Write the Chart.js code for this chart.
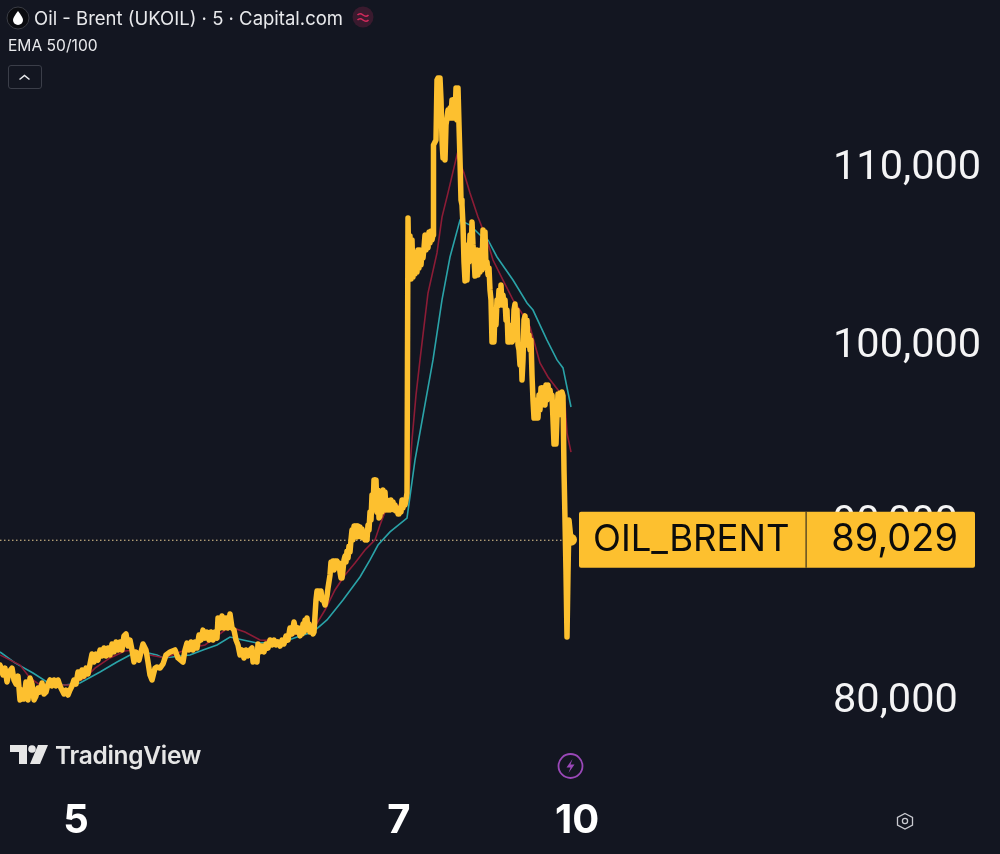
<!DOCTYPE html>
<html>
<head>
<meta charset="utf-8">
<title>Oil - Brent (UKOIL)</title>
<script src="https://cdn.jsdelivr.net/npm/chart.js@4"></script>
<style>
  html, body { margin: 0; background: #131621; }
  #wrap { position: relative; width: 1000px; height: 854px; overflow: hidden; font-family: Inter, sans-serif; color: #e8e9ec; }
  #wrap canvas { position: absolute; left: 0; top: 0; }
  .abs { position: absolute; white-space: nowrap; }
  #title { left: 34px; top: 6px; font-size: 18.5px; line-height: 24px; }
  #ema { left: 8px; top: 37px; font-size: 15.6px; line-height: 18px; }
  #collapse { left: 8px; top: 65px; width: 32px; height: 22px; border: 1px solid #3b3e49; border-radius: 3px; }
  #brand { left: 55px; top: 739px; font-size: 24.5px; line-height: 32px; font-weight: 600; color: #e6e6e6; letter-spacing: -0.3px; }
</style>
</head>
<body>
<div id="wrap">
  <canvas id="chart" width="1000" height="854"></canvas>
  <svg class="abs" style="left:0;top:0" width="1000" height="854">
    <circle cx="18" cy="18" r="11" fill="#0b0c10" stroke="#3a3c44" stroke-width="1"/>
    <path d="M18 11 C21 15 23 18 23 20 A5 5 0 0 1 13 20 C13 18 15 15 18 11Z" fill="#fff"/>
    <circle cx="363" cy="17" r="10.5" fill="#3a1a2e"/>
    <path d="M357.5 15 q2.5 -2.5 5.5 0 t5.5 0 M357.5 20 q2.5 -2.5 5.5 0 t5.5 0" fill="none" stroke="#d22a5c" stroke-width="1.6"/>
    <path d="M19.5 79.5 L24.5 75.5 L29.5 79.5" fill="none" stroke="#e8e9ec" stroke-width="1.6"/>
    <path d="M10 745 H27 V764 H19 V752 H10Z" fill="#e6e6e6"/>
    <circle cx="32" cy="749" r="3.8" fill="#e6e6e6"/>
    <path d="M38 745 H48 L40 764 H30Z" fill="#e6e6e6"/>
    <circle cx="570.5" cy="766" r="12" fill="none" stroke="#9a48b8" stroke-width="1.8"/>
    <path d="M572.5 759 L566.5 767.5 H570.5 L568.5 773 L574.5 764.5 H570.5Z" fill="#9a48b8"/>
    <path d="M905 813.5 L912.5 817.5 V825 L905 829 L897.5 825 V817.5Z" fill="none" stroke="#c9cad0" stroke-width="1.3"/>
    <circle cx="905" cy="821" r="2.6" fill="none" stroke="#c9cad0" stroke-width="1.3"/>
  </svg>
  <div class="abs" id="title">Oil - Brent (UKOIL) · 5 · Capital.com</div>
  <div class="abs" id="ema">EMA 50/100</div>
  <div class="abs" id="collapse"></div>
  <div class="abs" id="brand">TradingView</div>
</div>
<script>
// values
const dayTickBars = [76, 399, 577];
const dayTickLabels = ['5', '7', '10'];
const priceTicks = [80000, 90000, 100000, 110000];
const symbolName = 'OIL_BRENT';
const lastPriceLabel = '89,029';
const lastPrice = 88860;

const closeBars = [
  0, 3, 5, 7, 9, 12, 14, 16, 18, 20, 22, 24, 26, 28, 30, 32, 34, 36, 38, 40, 42, 44, 46,
  48, 50, 52, 54, 56, 58, 60, 62, 64, 66, 68, 70, 72, 74, 76, 78, 80, 82, 84, 86, 88, 90,
  92, 94, 96, 98, 100, 102, 104, 106, 108, 110, 112, 114, 116, 118, 120, 122, 124, 126, 128, 130, 132,
  134, 136, 139, 143, 146, 148, 150, 152, 155, 157, 160, 163, 166, 170, 175, 178,
  183, 185, 187, 189, 191, 193, 195, 197, 199, 201, 203, 205, 207, 209, 211, 213, 215, 217,
  218, 220, 222, 224, 226, 228, 230, 232, 234, 236, 238, 240, 242, 244, 246, 248, 250, 252,
  253, 255, 257, 258, 260, 262, 264, 266, 268, 270, 272, 274, 276, 278, 280, 282, 284, 286, 288, 290, 292, 294, 296, 298,
  300, 301, 302, 303, 304, 305, 306, 307, 308, 309, 310, 311, 313, 314, 316, 317, 318, 319, 320, 321, 322, 323, 325, 327, 328,
  330, 331, 332, 333, 334, 335, 336, 337, 338, 339, 340, 341, 342, 343, 344, 345, 346, 347, 348, 349, 350,
  351, 352, 353, 354, 355, 356, 357, 358, 359, 360, 361, 362, 363, 364, 365, 366, 367, 368, 369, 370,
  371, 372, 373, 374, 375, 376, 377, 378, 379, 380, 381, 382, 383, 384, 385, 386, 387, 388, 389, 390,
  391, 392, 393, 394, 395, 396, 397, 398, 399, 400, 401, 402, 403, 404, 405, 406, 407,
  408, 409, 410, 411, 412, 413, 414, 415, 416, 417, 418, 419, 420, 421, 422, 423, 424, 425, 426,
  427, 428, 429, 430, 431, 432, 433, 433.5, 436, 437, 438, 440, 441, 442, 443, 444, 445, 446, 447,
  448, 449, 450, 451, 452, 453, 454, 455, 456, 457, 458, 459, 460, 461, 462,
  463, 464, 465, 466, 467, 468, 469, 470, 471, 472, 473, 474, 475, 476, 477, 478, 479, 480, 481, 482,
  483, 484, 485, 486, 487, 488, 489, 490, 491, 492, 493, 494, 495, 496, 497, 498, 499, 500, 501, 502,
  503, 504, 505, 506, 507, 508, 509, 510, 511, 512, 513, 514, 515, 516, 517, 518, 519, 520, 521, 522,
  523, 524, 525, 526, 527, 528, 529, 530, 531, 532, 533, 534, 535, 536, 537, 538, 539, 540, 541, 542,
  543, 544, 545, 546, 547, 548, 549, 550, 551, 552, 553, 554, 555, 556, 557, 558, 559, 560, 561, 562,
  563, 564, 565, 566, 567, 568, 569, 570, 571
];
const closePrices = [
  81800, 81240, 81630, 80850, 81410, 81630, 80960, 80730, 81180, 79830, 80390, 79890, 80850, 79830, 81070, 80730, 79830, 80060, 80510, 80280, 80790, 80170, 80280,
  80730, 80960, 80620, 80960, 80620, 80960, 80620, 80390, 80170, 80390, 80110, 80390, 80620, 80960, 80730, 81410, 81070, 81520, 81180, 81630, 81300, 81860,
  82420, 81970, 82420, 82080, 82650, 82310, 82760, 82310, 82760, 82370, 82990, 82540, 83100, 82650, 83100, 82650, 83440, 83550, 82870, 83210, 82650,
  81970, 82530, 82080, 82990, 82650, 81970, 81240, 80960, 81630, 81690, 81630, 81860, 82370, 82530, 82650, 82200,
  81970, 82650, 83040, 82650, 83100, 82650, 83100, 82760, 83490, 83210, 83770, 83320, 83660, 83210, 83660, 83210, 83660, 83320,
  84450, 83890, 84560, 83890, 84450, 83890, 84680, 83890, 83770, 83210, 82930, 82370, 82650, 82200, 82650, 82310, 82650, 82760,
  81970, 82310, 81970, 82990, 82540, 82870, 82540, 82990, 82760, 83210, 82930, 83210, 82930, 83100, 82870, 83210, 82990, 83440, 83210, 83890, 83550, 84230, 83660, 83890,
  83440, 83890, 83550, 84110, 83660, 84340, 83890, 84450, 83770, 84110, 83660, 83890, 83550, 83660, 85470, 85970, 85580, 85970, 85580, 85970, 85470, 85580, 85180, 85690, 86140,
  86870, 87610, 87160, 87660, 87160, 87660, 87270, 87660, 87270, 87550, 87040, 86700, 86700, 87160, 87720, 87940, 87610, 88230, 87830, 88510, 88170,
  88850, 89410, 88850, 89630, 89010, 89630, 89010, 89630, 89130, 89580, 89010, 89470, 88960, 89300, 88850, 89180, 88850, 89690, 89410, 90420,
  89970, 91380, 90540, 92230, 90820, 92230, 90420, 91660, 90090, 90200, 91380, 90420, 91660, 90820, 91550, 90540, 91100, 90540, 90990, 90540,
  91100, 90650, 90990, 90540, 90820, 90480, 90650, 90310, 90310, 90650, 90420, 91100, 90650, 91100, 90820, 91100, 91500,
  106990, 103610, 105970, 103550, 105750, 103660, 105070, 103830, 104730, 103940, 105180, 104170, 105180, 104340, 105070, 104730, 105300, 106030, 105180,
  106030, 105300, 106200, 105580, 106250, 105750, 106030, 111100, 111380, 114760, 114870, 114870, 113640, 111380, 110370, 111950, 110260, 112230, 112620,
  113070, 112620, 113180, 112620, 113640, 112620, 113640, 112620, 114310, 112510, 114310, 112230, 110260, 108000, 107720,
  106590, 104510, 103440, 104510, 103490, 105470, 104510, 106030, 104730, 106760, 105470, 104730, 103720, 104730, 105180, 103780, 105070, 103940, 105180, 104060,
  106310, 104510, 106200, 104170, 104510, 103780, 104170, 102930, 102370, 100000, 101240, 100000, 101800, 100960, 102370, 102030, 102930, 102090, 103210, 102090,
  102650, 102090, 102370, 101240, 101800, 100000, 100960, 100000, 100680, 100000, 100110, 101800, 102140, 100680, 101800, 99830, 99550, 98700, 99830, 97860,
  98990, 101240, 101470, 100110, 101240, 99830, 100400, 99550, 100110, 98140, 96730, 95720, 96730, 95720, 96450, 95720, 97010, 96170, 97410, 96450,
  97410, 96620, 96450, 97580, 96730, 97580, 96850, 97300, 96850, 97010, 95610, 94250, 95610, 94250, 95890, 97070, 95890, 97130, 96170, 97180,
  96960, 92790, 89970, 87040, 83380, 87040, 89970, 89410, lastPrice
];

const ema50Bars = [
  0, 20, 30, 40, 55, 70, 85, 95, 110, 125, 135, 150, 165, 190, 205, 225, 233, 245, 260, 280, 300,
  316, 325, 335, 345, 355, 365, 375, 380, 385, 395, 405, 408, 412, 416, 420, 428, 437, 442, 448,
  457, 464, 470, 478, 487, 493, 503, 513, 520, 530, 540, 548, 558, 565, 567, 571
];
const ema50Prices = [
  82370, 81800, 81070, 80680, 80680, 80680, 81070, 81630, 82200, 82590, 82650, 82370, 82200, 82760,
  82930, 83770, 83890, 83660, 83210, 83160, 83660,
  84060, 84900, 86030, 86870, 87550, 88280, 88850, 89690, 90420, 90700, 90990, 91380, 94480, 97010,
  98990, 102760, 105020, 107040, 108400,
  110540, 109520, 108400, 107040, 105750, 104620, 103490, 102370, 101800, 100850, 98820, 98030,
  97300, 96560, 94870, 93800
];

const ema100Bars = [
  0, 15, 33, 47, 65, 80, 100, 117, 130, 143, 157, 163, 190, 203, 217, 230, 243, 257, 283, 300, 313,
  327, 343, 360, 370, 378, 390, 407, 415, 424, 433, 442, 450, 460, 470, 480, 488, 497, 513, 527,
  533, 547, 557, 563, 571
];
const ema100Prices = [
  82540, 81920, 81350, 80850, 80680, 80790, 81410, 81970, 82370, 82540, 82370, 82200, 82370, 82650,
  82930, 83380, 83210, 83040, 83100, 83440, 83660,
  84340, 85470, 86760, 87720, 88560, 89300, 90080, 93350, 96170, 98990, 102370, 104790, 106870,
  106590, 106030, 105750, 104790, 103490, 102200,
  101800, 100110, 98990, 98540, 96340
];

const GOLD = '#fdc02f';

function toPoints(bars, prices) {
  return bars.map((bar, i) => ({ x: bar, y: prices[i] }));
}

// axis labels must not push the plot area in, the scales fill the page
function noLabelPadding(scale) {
  scale.paddingLeft = 0;
  scale.paddingRight = 0;
  scale.paddingTop = 0;
  scale.paddingBottom = 0;
}

// price line and the symbol/price tag on the right
const lastPriceTag = {
  id: 'lastPriceTag',
  beforeDatasetsDraw(chart) {
    const ctx = chart.ctx;
    const y = chart.scales.y.getPixelForValue(lastPrice);
    ctx.save();
    ctx.strokeStyle = '#e9cf94';
    ctx.lineWidth = 1;
    ctx.setLineDash([1.5, 2.5]);
    ctx.beginPath();
    ctx.moveTo(0, y + 0.5);
    ctx.lineTo(chart.scales.x.getPixelForValue(565), y + 0.5);
    ctx.stroke();
    ctx.restore();
  },
  afterDraw(chart) {
    const ctx = chart.ctx;
    const y = chart.scales.y.getPixelForValue(lastPrice);
    ctx.save();
    ctx.fillStyle = GOLD;
    ctx.beginPath();
    ctx.roundRect(579, y - 28, 396, 56, 2);
    ctx.fill();
    ctx.fillStyle = '#3a3320';
    ctx.fillRect(805.5, y - 28, 1.2, 56);
    ctx.fillStyle = '#0c0c0c';
    ctx.textBaseline = 'middle';
    ctx.textAlign = 'left';
    ctx.font = '36.5px Inter';
    ctx.fillText(symbolName, 593, y);
    ctx.textAlign = 'right';
    ctx.font = '38px Inter';
    ctx.fillText(lastPriceLabel, 958, y);
    ctx.restore();
  }
};

new Chart(document.getElementById('chart'), {
  type: 'line',
  data: {
    datasets: [
      {
        label: 'Oil - Brent',
        data: toPoints(closeBars, closePrices),
        borderColor: GOLD,
        backgroundColor: GOLD,
        borderWidth: 5.5,
        borderJoinStyle: 'round',
        borderCapStyle: 'round',
        tension: 0,
        clip: false,
        pointRadius: ctx => (ctx.dataIndex === closeBars.length - 1 ? 6 : 0),
        pointBorderWidth: 0
      },
      {
        label: 'EMA 50',
        data: toPoints(ema50Bars, ema50Prices),
        borderColor: '#8c1c36',
        borderWidth: 1.6,
        tension: 0,
        pointRadius: 0
      },
      {
        label: 'EMA 100',
        data: toPoints(ema100Bars, ema100Prices),
        borderColor: '#2aa3a8',
        borderWidth: 1.6,
        tension: 0,
        pointRadius: 0
      }
    ]
  },
  options: {
    responsive: false,
    animation: false,
    layout: { padding: 0, autoPadding: false },
    plugins: { legend: { display: false }, tooltip: { enabled: false } },
    scales: {
      x: {
        type: 'linear',
        min: 0,
        max: 820,
        grid: { display: false },
        border: { display: false },
        afterBuildTicks: scale => { scale.ticks = dayTickBars.map(v => ({ value: v })); },
        afterFit: scale => { scale.height = 64; noLabelPadding(scale); },
        ticks: {
          autoSkip: false,
          maxRotation: 0,
          padding: -1,
          color: '#ffffff',
          font: { family: 'Inter', size: 40, weight: '700' },
          callback: value => dayTickLabels[dayTickBars.indexOf(value)]
        }
      },
      y: {
        position: 'right',
        min: 74761,
        max: 119268,
        grid: { display: false },
        border: { display: false },
        afterBuildTicks: scale => { scale.ticks = priceTicks.map(v => ({ value: v })); },
        afterFit: scale => { scale.width = 180; noLabelPadding(scale); },
        ticks: {
          padding: 5,
          crossAlign: 'near',
          color: '#f4f4f5',
          font: { family: 'Roboto', size: 41.5, weight: '400', lineHeight: 0.2 },
          // empty first line: the label sits 4px lower, as in the reference
          callback: value => ['', value.toLocaleString('en-US')]
        }
      }
    }
  },
  plugins: [lastPriceTag]
});
</script>
</body>
</html>
